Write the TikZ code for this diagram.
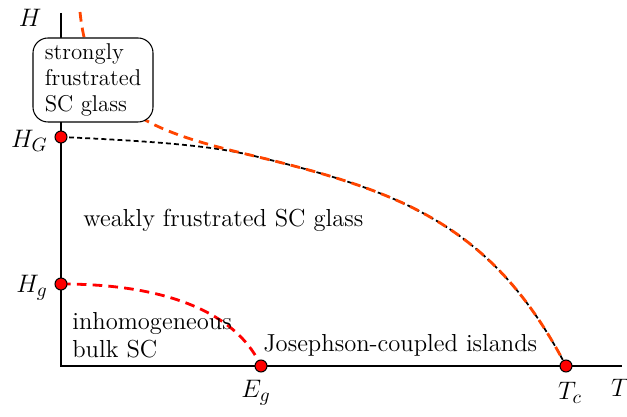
\documentclass[tikz,border=0pt]{standalone}
\usepackage{tikz}

\definecolor{lineorange}{RGB}{255,69,0}

\tikzset{
  dot/.style={circle, draw, fill=red, line width=0.6pt, inner sep=0pt, minimum size=0.24cm},
  redline/.style={red, line width=1.6pt, dash pattern=on 5.5pt off 3.5pt},
  orangeline/.style={lineorange, line width=1.6pt, dash pattern=on 5.5pt off 3.5pt},
  blackline/.style={black, line width=1pt, dash pattern=on 2.8pt off 1.8pt},
  region/.style={font=\fontsize{14}{16}\selectfont, inner sep=0pt},
  axislabel/.style={font=\fontsize{15}{16}\selectfont, inner sep=0pt}
}

\begin{document}
\begin{tikzpicture}[scale=1.0]
            \useasboundingbox (-1.22,-1.0) rectangle (11.32,7.32);
            % Axes
            \coordinate (O) at (0,0);
            \coordinate (Htop) at (0,7.06);
            \coordinate (Tend) at (11.22,0);
            \draw[line width=0.8pt] (Htop) -- (O) -- (Tend);
            \node[axislabel] (Hlab) at (-0.62,6.96) {$H$};
            \node[axislabel] (Tlab) at (11.18,-0.44) {$T$};

            % Points
            \coordinate (HG) at (0,4.58);
            \coordinate (Hg) at (0,1.64);
            \coordinate (Eg) at (4,0);
            \coordinate (Tc) at (10.1,0);
            \coordinate (B) at (3.78,4.22);

            % Phase boundaries
            \draw[blackline] (HG) .. controls (1.78,4.5) and (2.98,4.41) .. (B)
                .. controls (6.78,3.5) and (8.62,2.84) .. (Tc);
            \draw[orangeline] (0.38,7.08) .. controls (0.58,5.12) and (1.78,4.7) .. (B)
                .. controls (6.78,3.5) and (8.62,2.84) .. (Tc);
            \draw[redline] (Hg) .. controls (2.38,1.64) and (3.58,0.92) .. (Eg);

            % Strongly frustrated region
            \node[region, draw, fill=white, line width=0.6pt, rounded corners=0.3cm,
                  minimum width=2.4cm, minimum height=1.68cm, align=left,
                  font=\fontsize{13}{14.8}\selectfont] (strong) at (0.64,5.72)
                {strongly\\frustrated\\SC glass};

            \node[dot] (HGdot) at (HG) {};
            \node[dot] (Hgdot) at (Hg) {};
            \node[dot] (Egdot) at (Eg) {};
            \node[dot] (Tcdot) at (Tc) {};

            \node[axislabel, anchor=east] (HGlab) at (-0.26,4.5) {$H_G$};
            \node[axislabel, anchor=east] (Hglab) at (-0.26,1.56) {$H_g$};
            \node[axislabel] (Eglab) at (3.9,-0.54) {$E_g$};
            \node[axislabel] (Tclab) at (10.18,-0.54) {$T_c$};

            % Regions
            \node[region, anchor=base west] (weak) at (0.44,2.78) {weakly frustrated SC glass};
            \node[region, anchor=base west, align=left] (bulk) at (0.22,0.16) {inhomogeneous\\bulk SC};
            \node[region, anchor=base west] (islands) at (4.04,0.28) {Josephson-coupled islands};
        \end{tikzpicture}
\end{document}
